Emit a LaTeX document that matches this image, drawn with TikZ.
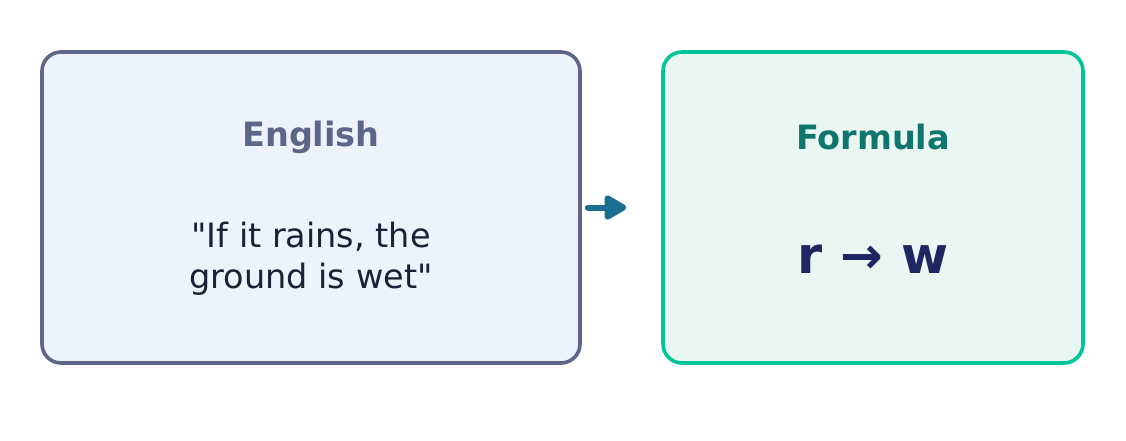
\documentclass[tikz,border=0pt]{standalone}
\usepackage{fontspec}
\setmainfont{DejaVu Sans}
\usetikzlibrary{arrows.meta}
\definecolor{slate}{HTML}{5B6688}
\definecolor{slatefill}{HTML}{EEF2FA}
\definecolor{mint}{HTML}{00C49A}
\definecolor{mintfill}{HTML}{E9F6F1}
\definecolor{teal}{HTML}{0F766E}
\definecolor{navy}{HTML}{1E2761}
\definecolor{ink}{HTML}{1A2238}
\definecolor{arrblue}{HTML}{1B6E91}
\begin{document}
\begin{tikzpicture}
      [x=1pt, y=-1pt,
      box/.style={rectangle, rounded corners=19pt, line width=3.6pt, inner sep=0pt},
      title/.style={font=\bfseries\fontsize{33.5}{40}\selectfont},
      arr/.style={-{Triangle[length=25pt, width=27pt, line join=round]}, line width=6pt, line cap=round, arrblue}]
      \useasboundingbox (0, 0) rectangle (1126, 441);
      \node (eng) at (311, 207.5) [box, draw=slate, fill=slatefill,
        minimum width=538pt, minimum height=311pt] {};
      \node (form) at (873, 207.5) [box, draw=mint, fill=mintfill,
        minimum width=420pt, minimum height=311pt] {};
      \node (engtitle) at (311, 137) [title, text=slate] {English};
      \node (engtext) at (311, 259) [align=center, text=ink,
        font=\fontsize{33.5}{41}\selectfont]
        {\textquotedbl If it rains, the\\ground is wet\textquotedbl};
      \node (formtitle) at (873, 137) [title, text=teal] {Formula};
      \node (formtext) at (873, 259) [text=navy,
        font=\bfseries\fontsize{51}{60}\selectfont] {r → w};
      \draw[arr, shorten >=35pt, shorten <=6pt] (eng.east) -- (form.west);
    \end{tikzpicture}
\end{document}
